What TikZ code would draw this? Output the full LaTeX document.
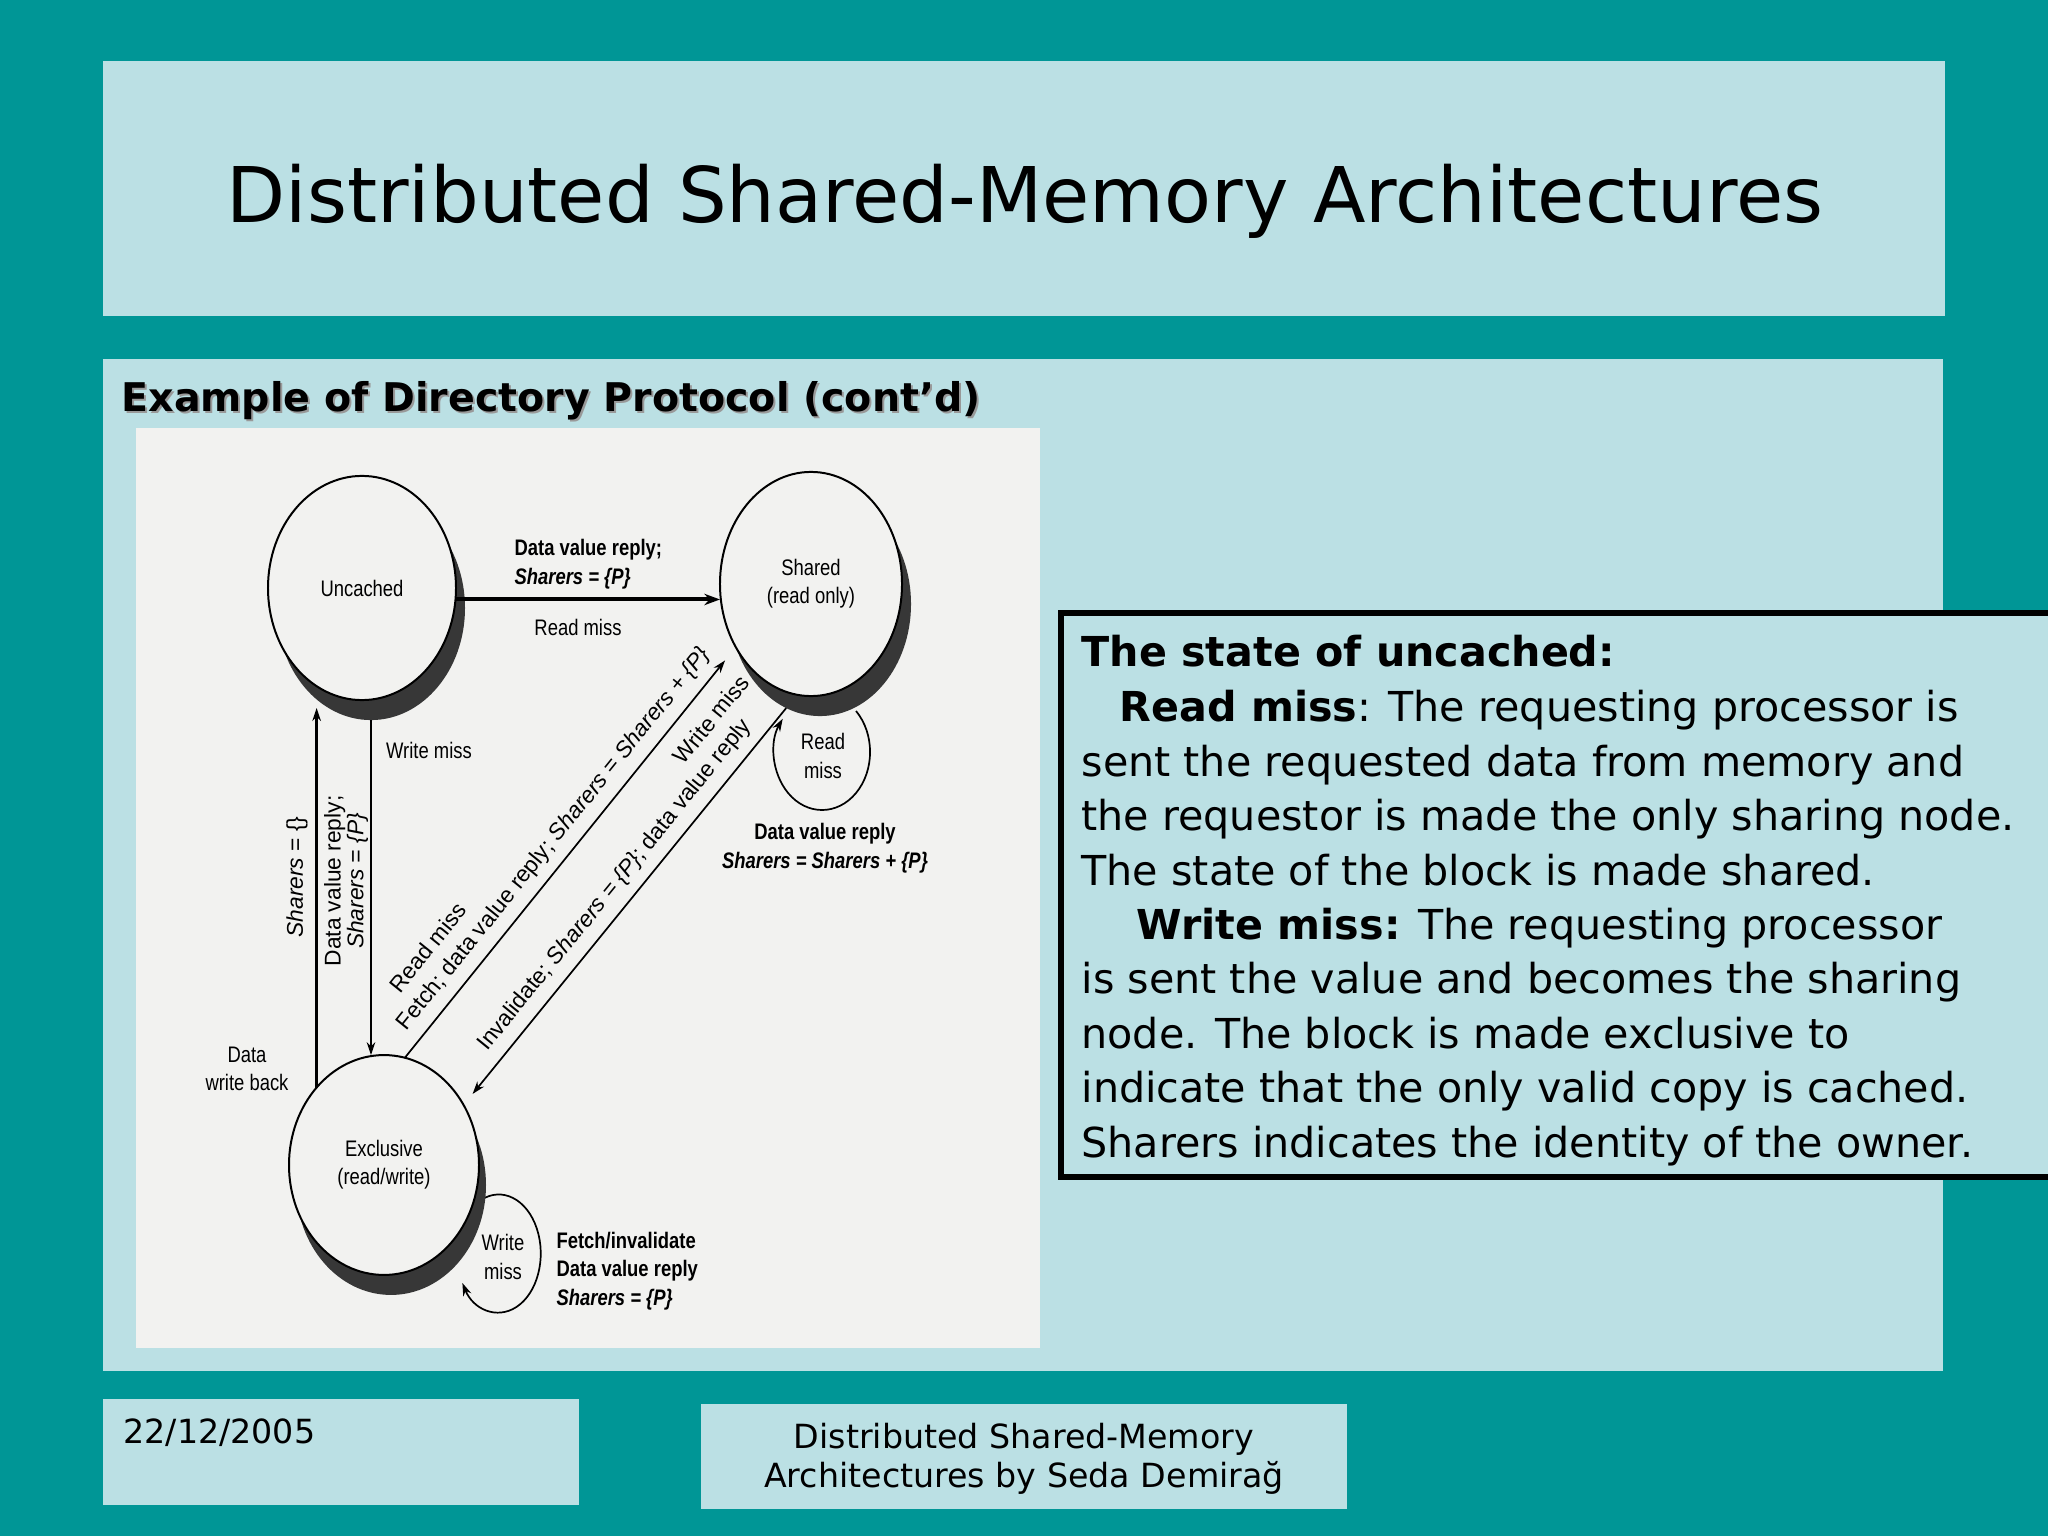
\documentclass[tikz,border=0pt]{standalone}
\usepackage{fontspec}
\setmainfont{DejaVu Sans}
\newfontfamily\dfont{Liberation Sans}
\newfontfamily\cond[FakeStretch=0.82]{Liberation Sans}
\usetikzlibrary{shapes.geometric,arrows.meta}
\definecolor{tealbg}{RGB}{0,150,150}
\definecolor{pale}{RGB}{187,224,228}
\definecolor{scanbg}{RGB}{242,242,240}
\definecolor{shade}{RGB}{55,55,55}
\begin{document}
\begin{tikzpicture}[x=0.35156pt,y=-0.35156pt,
  stnode/.style={ellipse, draw=black, line width=0.7pt, fill=scanbg, inner sep=0pt, outer sep=0pt, align=center, font=\cond\fontsize{7.9}{9.8}\selectfont},
  stshade/.style={ellipse, fill=shade, draw=none, inner sep=0pt, outer sep=0pt},
  lab/.style={font=\cond\fontsize{7.9}{10.1}\selectfont, inner sep=0pt, align=center},
  blab/.style={font=\cond\bfseries\fontsize{7.9}{10.1}\selectfont, inner sep=0pt},
  dlab/.style={font=\dfont\fontsize{8}{9}\selectfont},
  arr/.style={-{Stealth[length=4.5pt,width=3pt]}, line width=0.6pt},
  rarr/.style={{Stealth[length=4.5pt,width=3pt]}-, line width=0.6pt},
  body/.style={anchor=base west, inner sep=0pt, font=\fontsize{14.5}{19}\selectfont},
  foot/.style={anchor=base, inner sep=0pt, font=\fontsize{11.7}{14}\selectfont}
]
\useasboundingbox (0,0) rectangle (2048,1536);
\fill[tealbg] (0,0) rectangle (2048,1536);
% title
\fill[pale] (103,61) rectangle (1945,316);
\node[anchor=base, inner sep=0pt, font=\fontsize{27}{32}\selectfont] (title) at (1025,223) {Distributed Shared-Memory Architectures};
% content
\fill[pale] (103,359) rectangle (1943,1371);
\node[anchor=base west, inner sep=0pt, text=black!40, font=\bfseries\fontsize{13.9}{17}\selectfont] (subsh) at (123,414) {Example of Directory Protocol (cont’d)};
\node[anchor=base west, inner sep=0pt, font=\bfseries\fontsize{13.9}{17}\selectfont] (sub) at (121,412) {Example of Directory Protocol (cont’d)};
% scanned figure
\fill[scanbg] (136,428) rectangle (1040,1348);

% self loops (drawn first, partly hidden by the states)
\coordinate (rl0) at (856,711);
\draw[arr] (rl0) arc[start angle=-45, end angle=215, x radius=48, y radius=58];
\coordinate (wl0) at (481,1200);
\draw[arr] (wl0) arc[start angle=-115, end angle=150, x radius=42, y radius=59];

% states
\node[stshade, minimum width=66.1pt, minimum height=78.8pt] (uncS) at (371,608) {};
\node[stnode, minimum width=66.1pt, minimum height=78.8pt] (unc) at (362,588) {Uncached};
\node[stshade, minimum width=64pt, minimum height=78.8pt] (shaS) at (820,604) {};
\node[stnode, minimum width=64pt, minimum height=78.8pt] (sha) at (811,584) {Shared\\(read only)};
\node[stshade, minimum width=66.8pt, minimum height=77.3pt] (excS) at (391,1185) {};
\node[stnode, minimum width=66.8pt, minimum height=77.3pt] (exc) at (384,1165) {Exclusive\\(read/write)};

% horizontal arrow
\draw[-{Stealth[length=5.5pt,width=4pt]}, line width=1.4pt] (unc.-7) -- (unc.-7 -| sha.west);
\node[blab, anchor=west, align=left] (l1) at (514,564) {Data value reply;\\\textit{Sharers = \{P\}}};
\node[lab] (l2) at (578,627) {Read miss};

% vertical arrows
\draw[arr, line width=1pt, shorten >=2.8pt] (exc.131) -- (exc.131 |- unc.south);
\draw[arr, line width=1pt] (uncS.south) -- (uncS.south |- exc.north);
\node[dlab, rotate=90, inner sep=0pt] (l3) at (297,877) {\textit{Sharers} = \{\}};
\node[dlab, rotate=90, inner sep=0pt, align=center, font=\dfont\fontsize{8}{8}\selectfont] (l4) at (346,881) {Data value reply;\\\textit{Sharers = \{P\}}};
\node[lab] (l5) at (429,750) {Write miss};
\node[lab] (l6) at (247,1069) {Data\\write back};

% diagonal arrows
\draw[arr, shorten >=6pt] (exc.79) -- node[dlab, sloped, above, pos=0.5] {Fetch; data value reply; \textit{Sharers = Sharers + \{P\}}} node[dlab, sloped, above=11.5pt, pos=0.19] {Read miss} (sha.220);
\draw[rarr, shorten <=5pt] (exc.37) -- node[dlab, sloped, above, pos=0.52] {Invalidate; \textit{Sharers = \{P\}}; data value reply} node[dlab, sloped, above=11.5pt, pos=0.89] {Write miss} (shaS.252);

% loop labels
\node[lab] (l7) at (823,756) {Read\\miss};
\node[blab, align=center] (l8) at (825,848) {Data value reply\\\textit{Sharers = Sharers + \{P\}}};
\node[lab] (l9) at (503,1257) {Write\\miss};
\node[blab, anchor=west, align=left] (l10) at (556,1271) {Fetch/invalidate\\Data value reply\\\textit{Sharers = \{P\}}};

% text box
\draw[line width=1.8pt, fill=pale] (1061,613) rectangle (2090,1177);
\node[body] (t1) at (1081,667) {\textbf{The state of uncached:}};
\node[body] (t2) at (1119,721) {\textbf{Read miss}: The requesting processor is};
\node[body] (t3) at (1081,776) {sent the requested data from memory and};
\node[body] (t4) at (1081,830) {the requestor is made the only sharing node.};
\node[body] (t5) at (1081,885) {The state of the block is made shared.};
\node[body] (t6) at (1136,939) {\textbf{Write miss:} The requesting processor};
\node[body] (t7) at (1081,993) {is sent the value and becomes the sharing};
\node[body] (t8) at (1081,1048) {node. The block is made exclusive to};
\node[body] (t9) at (1081,1102) {indicate that the only valid copy is cached.};
\node[body] (t10) at (1081,1157) {Sharers indicates the identity of the owner.};

% footer
\fill[pale] (103,1399) rectangle (579,1505);
\node[foot, anchor=base west] (date) at (123,1443) {22/12/2005};
\fill[pale] (701,1404) rectangle (1347,1509);
\node[foot] (f1) at (1024,1448) {Distributed Shared-Memory};
\node[foot] (f2) at (1024,1487) {Architectures by Seda Demirağ};
\end{tikzpicture}
\end{document}
